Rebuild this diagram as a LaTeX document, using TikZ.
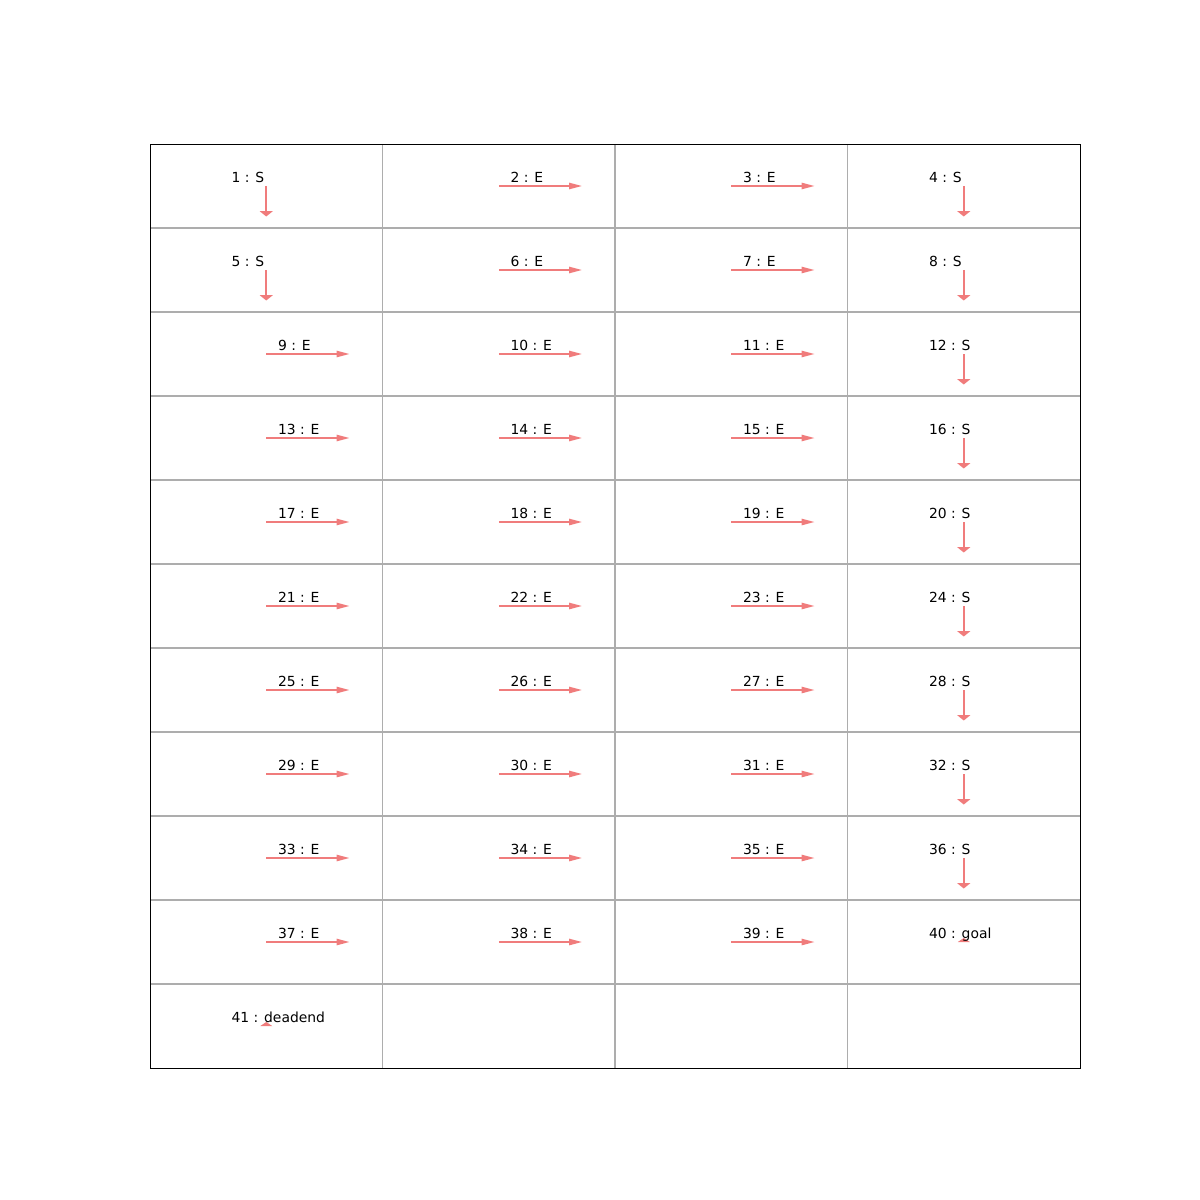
\documentclass[tikz,border=0pt]{standalone}
\usepackage{fontspec}
\setmainfont{DejaVu Sans}
\usetikzlibrary{arrows.meta}

\definecolor{policyred}{RGB}{240,124,124}

\begin{document}
\begin{tikzpicture}[
    x=0.72pt, y=-0.72pt,
    every node/.style={font=\fontsize{10}{12}\selectfont, inner sep=0pt, anchor=base west},
    gridline/.style={draw=black!32, line width=0.8pt},
    frame/.style={draw=black, line width=0.7pt},
    eastarrow/.style={draw=policyred, line width=1.4pt, -{Triangle[length=9.4pt,width=4.4pt]}},
    southarrow/.style={draw=policyred, line width=1.4pt, -{Triangle[length=3.8pt,width=9.2pt]}},
    stophead/.style={fill=policyred, draw=none}
]
    \useasboundingbox (0,0) rectangle (1200,1200);

    % grid of states
    \foreach \x in {382.5,615,847.5}
        \draw[gridline] (\x,144) -- (\x,1068);
    \foreach \y in {228,312,...,984}
        \draw[gridline] (150,\y) -- (1080,\y);
    \draw[frame] (150,144) rectangle (1080,1068);

    % east moves
    \foreach \n in {2,3,6,7,9,10,11,13,14,15,17,18,19,21,22,23,25,26,27,29,30,31,33,34,35,37,38,39} {
        \pgfmathsetmacro\cx{150+232.5*(mod(\n-1,4)+0.5)}
        \pgfmathsetmacro\cy{144+84*(int((\n-1)/4)+0.5)}
        \coordinate (c\n) at (\cx,\cy);
        \coordinate (t\n) at (\cx+83.5,\cy);
        \draw[eastarrow] (c\n) -- (t\n);
        \node (l\n) at (\cx+11.5,\cy-3.6) {\n{} : E};
    }

    % south moves
    \foreach \n in {1,4,5,8,12,16,20,24,28,32,36} {
        \pgfmathsetmacro\cx{150+232.5*(mod(\n-1,4)+0.5)}
        \pgfmathsetmacro\cy{144+84*(int((\n-1)/4)+0.5)}
        \coordinate (c\n) at (\cx,\cy);
        \coordinate (t\n) at (\cx,\cy+30.5);
        \draw[southarrow] (c\n) -- (t\n);
        \node (l\n) at (\cx-35,\cy-3.6) {\n{} : S};
    }

    % terminal states
    \foreach \n/\txt in {40/goal,41/deadend} {
        \pgfmathsetmacro\cx{150+232.5*(mod(\n-1,4)+0.5)}
        \pgfmathsetmacro\cy{144+84*(int((\n-1)/4)+0.5)}
        \coordinate (c\n) at (\cx,\cy);
        \fill[stophead] (\cx-6,\cy) -- (\cx,\cy-4) -- (\cx+6,\cy) -- cycle;
        \node (l\n) at (\cx-35,\cy-3.6) {\n{} : \txt};
    }
\end{tikzpicture}
\end{document}
